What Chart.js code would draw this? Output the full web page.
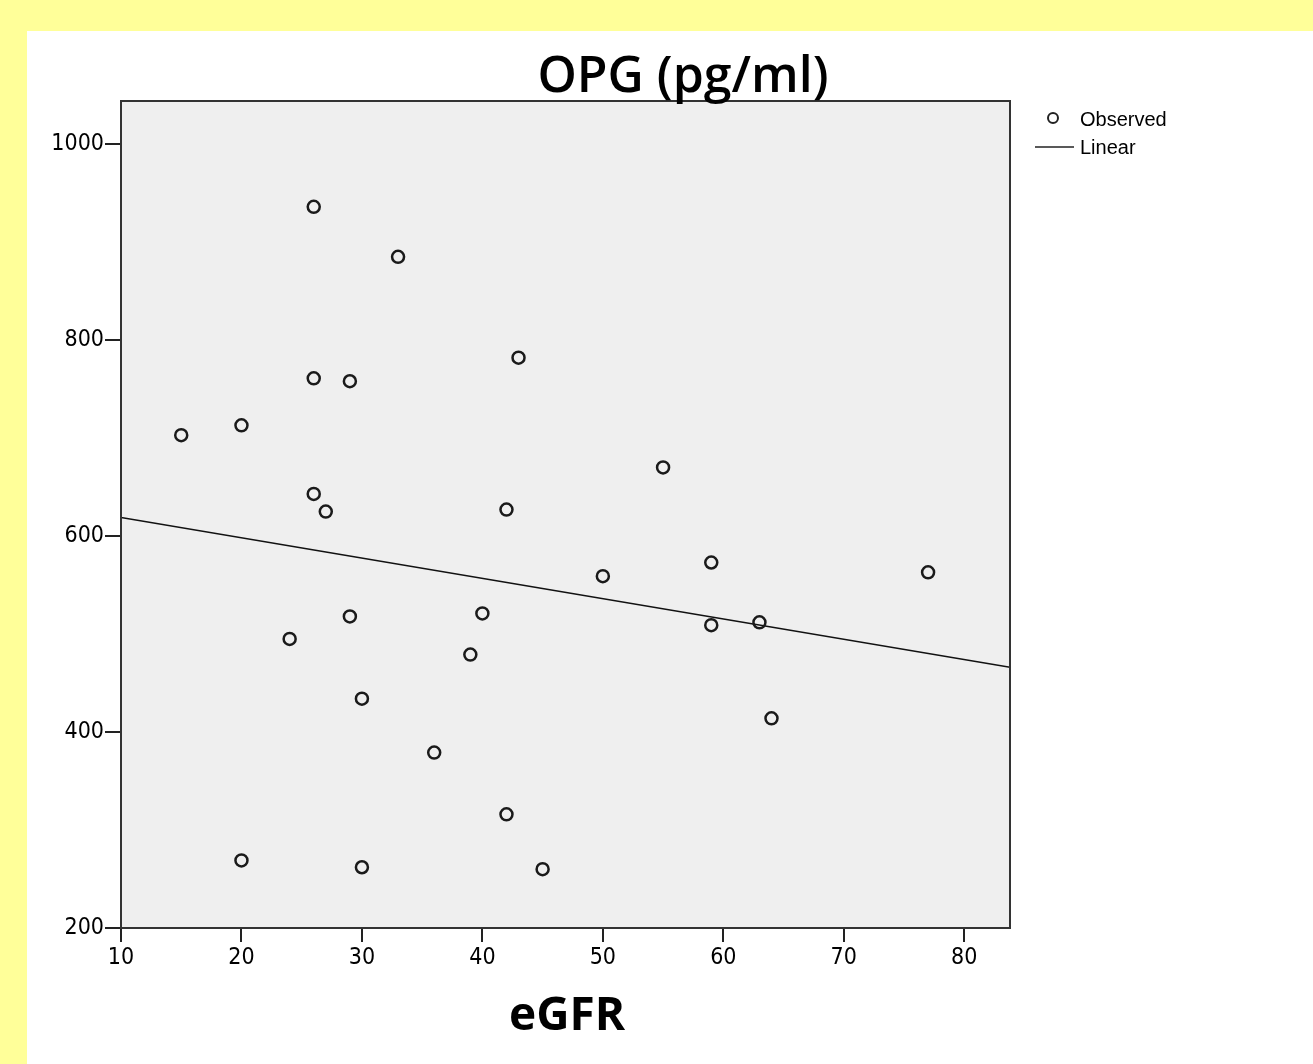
<!DOCTYPE html>
<html lang="en">
<head>
  <meta charset="UTF-8" />
  <title>OPG vs eGFR</title>
  <style>
    html, body {
      margin: 0;
      padding: 0;
      background: #ffff99;
      width: 1313px;
      height: 1064px;
      overflow: hidden;
    }
    .panel {
      position: absolute;
      left: 27px;
      top: 31px;
      width: 1286px;
      height: 1033px;
      background: #ffffff;
    }
    .wrap {
      position: absolute;
      left: 0;
      top: 0;
      width: 1313px;
      height: 1064px;
    }
  </style>
  <script src="https://cdn.jsdelivr.net/npm/chart.js"></script>
</head>
<body>
  <div class="panel"></div>
  <div class="wrap"><canvas id="mychart" width="1313" height="1064"></canvas></div>
  <script>
    // eGFR (x) and OPG (y)
    const egfr = [15, 20, 20, 24, 26, 26, 26, 27, 29, 29, 30, 30, 33, 36, 39, 40, 42, 42, 43, 45, 50, 55, 59, 59, 63, 64, 77];
    const opg = [703, 713, 269, 495, 936, 761, 643, 625, 758, 518, 434, 262, 885, 379, 479, 521, 627, 316, 782, 260, 559, 670, 573, 509, 512, 414, 563];
    // fitted line endpoints
    const fitX = [10, 83.8];
    const fitY = [619, 466];
    const xTicks = [10, 20, 30, 40, 50, 60, 70, 80];
    const yTicks = [200, 400, 600, 800, 1000];

    const tickFont = { family: '"Liberation Sans Narrow", "DejaVu Sans Condensed", "Liberation Sans", sans-serif', size: 23 };

    const decor = {
      id: 'decor',
      beforeDraw(chart) {
        const { ctx, chartArea: a } = chart;
        ctx.save();
        ctx.fillStyle = '#efefef';
        ctx.fillRect(a.left, a.top, a.right - a.left, a.bottom - a.top);
        ctx.restore();
      },
      afterDraw(chart) {
        const { ctx, chartArea: a } = chart;
        ctx.save();
        ctx.strokeStyle = '#333';
        ctx.lineWidth = 2;
        ctx.strokeRect(a.left, a.top, a.right - a.left, a.bottom - a.top);

        ctx.fillStyle = '#000';
        ctx.textBaseline = 'middle';
        ctx.textAlign = 'center';
        ctx.font = '600 50px "Open Sans", sans-serif';
        ctx.fillText('OPG (pg/ml)', 683, 78);
        ctx.font = 'bold 46px "Open Sans", sans-serif';
        ctx.fillText('eGFR', 567, 1017);

        // legend
        ctx.textAlign = 'left';
        ctx.font = '20px "Liberation Sans Narrow", "Liberation Sans", sans-serif';
        ctx.beginPath();
        ctx.arc(1053, 118, 5, 0, Math.PI * 2);
        ctx.lineWidth = 2;
        ctx.strokeStyle = '#222';
        ctx.stroke();
        ctx.fillText('Observed', 1080, 120);
        ctx.beginPath();
        ctx.moveTo(1035, 147);
        ctx.lineTo(1074, 147);
        ctx.lineWidth = 1.5;
        ctx.stroke();
        ctx.fillText('Linear', 1080, 148);
        ctx.restore();
      }
    };

    const chart = new Chart('mychart', {
      type: 'scatter',
      data: {
        datasets: [{
          label: 'Observed',
          data: egfr.map((x, i) => ({ x: x, y: opg[i] })),
          pointRadius: 6,
          pointBorderWidth: 2.5,
          pointBorderColor: '#1a1a1a',
          pointBackgroundColor: 'rgba(0,0,0,0)',
          showLine: false
        }, {
          label: 'Linear',
          data: fitX.map((x, i) => ({ x: x, y: fitY[i] })),
          showLine: true,
          borderColor: '#111',
          borderWidth: 1.5,
          pointRadius: 0
        }]
      },
      options: {
        responsive: false,
        animation: false,
        layout: { padding: { top: 101, right: 303, left: 0, bottom: 0 } },
        plugins: {
          legend: { display: false },
          tooltip: { enabled: false }
        },
        scales: {
          x: {
            type: 'linear',
            min: 10,
            max: 83.8,
            afterBuildTicks: (s) => { s.ticks = xTicks.map(v => ({ value: v })); },
            afterFit: (s) => { s.height = 136; },
            grid: { drawOnChartArea: false, drawTicks: true, tickLength: 14, color: '#222', lineWidth: 2 },
            border: { display: false },
            ticks: { color: '#000', font: tickFont, padding: 2, maxRotation: 0, callback: (v) => String(v) }
          },
          y: {
            type: 'linear',
            min: 200,
            max: 1044,
            afterBuildTicks: (s) => { s.ticks = yTicks.map(v => ({ value: v })); },
            afterFit: (s) => { s.width = 121; },
            grid: { drawOnChartArea: false, drawTicks: true, tickLength: 16, color: '#222', lineWidth: 2 },
            border: { display: false },
            ticks: { color: '#000', font: tickFont, padding: 1, callback: (v) => String(v) }
          }
        }
      },
      plugins: [decor]
    });
  </script>
</body>
</html>
